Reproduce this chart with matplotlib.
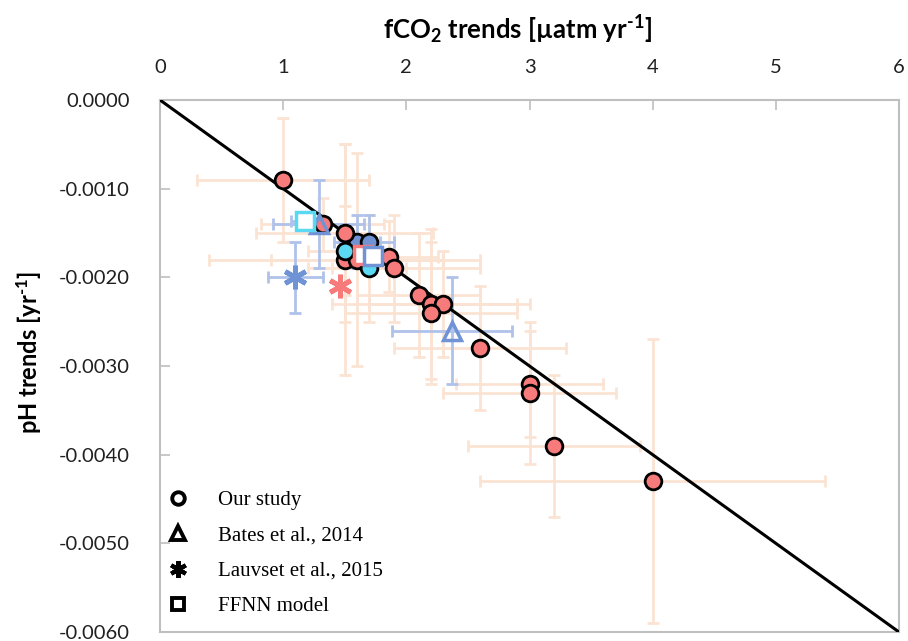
import matplotlib
matplotlib.use("Agg")
import matplotlib.pyplot as plt
from matplotlib.lines import Line2D

plt.rcParams['axes.unicode_minus'] = False
plt.rcParams['mathtext.fontset'] = 'custom'
plt.rcParams['mathtext.rm'] = 'Lato'
plt.rcParams['mathtext.bf'] = 'Lato:bold'
plt.rcParams['mathtext.default'] = 'bf'

# ---------------- data ----------------
x_ticks = [0, 1, 2, 3, 4, 5, 6]
y_ticks = [0.0, -0.001, -0.002, -0.003, -0.004, -0.005, -0.006]

line_x = [0, 6]
line_y = [0.0, -0.006]

our_red_x = [1.0, 1.32, 1.5, 1.5, 1.6, 1.86, 1.9, 2.1, 2.2, 2.3, 2.2, 2.6, 3.0, 3.0, 3.2, 4.0]
our_red_y = [-0.0009, -0.0014, -0.0015, -0.0018, -0.0018, -0.00177, -0.0019, -0.0022,
             -0.0023, -0.0023, -0.0024, -0.0028, -0.0032, -0.0033, -0.0039, -0.0043]
our_red_xerr = [0.7, 0.5, 0.72, 1.1, 0.7, 0.4, 0.7, 0.5, 0.8, 0.6, 0.7, 0.7, 0.6, 0.7, 0.7, 1.4]
our_red_yerr = [0.0007, 0.0003, 0.001, 0.0013, 0.0012, 0.0004, 0.0006, 0.0007,
                0.00085, 0.0006, 0.0008, 0.0007, 0.0006, 0.0008, 0.0008, 0.0016]

our_blue_x = [1.6, 1.7]
our_blue_y = [-0.0016, -0.0016]
our_blue_xerr = [0.19, 0.2]
our_blue_yerr = [0.0003, 0.0003]

our_cyan_x = [1.5, 1.7]
our_cyan_y = [-0.0017, -0.0019]
our_cyan_xerr = [0.3, 0.3]
our_cyan_yerr = [0.0005, 0.0006]

bates_x = [1.29, 2.37]
bates_y = [-0.0014, -0.0026]
bates_xerr = [0.37, 0.49]
bates_yerr = [0.0005, 0.0006]

lauv_blue_x = [1.1]
lauv_blue_y = [-0.002]
lauv_blue_xerr = [0.22]
lauv_blue_yerr = [0.0004]

lauv_red_x = [1.46]
lauv_red_y = [-0.0021]

ffnn_cyan_x = [1.18]
ffnn_cyan_y = [-0.00136]
ffnn_cyan_xerr = [0.12]

ffnn_red_x = [1.65]
ffnn_red_y = [-0.00175]

ffnn_blue_x = [1.73]
ffnn_blue_y = [-0.00176]

legend_labels = ["Our study", "Bates et al., 2014", "Lauvset et al., 2015", "FFNN model"]

# ---------------- style ----------------
RED = '#F77B7B'
BLUE = '#7093D6'
CYAN = '#5BD9F2'
PEACH = '#FBE3D3'
LBLUE = '#AFC2EA'
GRAY = '#BFBFBF'

fig = plt.figure(figsize=(9.08, 6.41), dpi=100)
ax = fig.add_axes([0.1762, 0.014, 0.8139, 0.830])

ebkw = dict(fmt='none', elinewidth=2, capsize=4.5, capthick=2)
ax.errorbar(our_red_x, our_red_y, xerr=our_red_xerr, yerr=our_red_yerr, ecolor=PEACH, zorder=1, **ebkw)
ax.errorbar(our_cyan_x, our_cyan_y, xerr=our_cyan_xerr, yerr=our_cyan_yerr, ecolor=PEACH, zorder=1, **ebkw)
ax.errorbar(our_blue_x, our_blue_y, xerr=our_blue_xerr, yerr=our_blue_yerr, ecolor=LBLUE, zorder=1.5, **ebkw)
ax.errorbar(bates_x, bates_y, xerr=bates_xerr, yerr=bates_yerr, ecolor=LBLUE, zorder=1.5, **ebkw)
ax.errorbar(lauv_blue_x, lauv_blue_y, xerr=lauv_blue_xerr, yerr=lauv_blue_yerr, ecolor=LBLUE, zorder=1.5, **ebkw)
ax.errorbar(ffnn_cyan_x, ffnn_cyan_y, xerr=ffnn_cyan_xerr, ecolor=LBLUE, zorder=1.5, **ebkw)

ax.plot(line_x, line_y, color='black', lw=2.2, zorder=3, solid_capstyle='butt')

ckw = dict(linestyle='none', marker='o', markersize=12, markeredgecolor='black', markeredgewidth=2)
ax.plot(our_blue_x, our_blue_y, markerfacecolor=BLUE, zorder=4, **ckw)
ax.plot(our_red_x, our_red_y, markerfacecolor=RED, zorder=5, **ckw)
ax.plot(our_cyan_x, our_cyan_y, markerfacecolor=CYAN, zorder=6, **ckw)

ax.plot(bates_x, bates_y, linestyle='none', marker='^', markersize=13, markerfacecolor='none',
        markeredgecolor=BLUE, markeredgewidth=2.5, zorder=7)
ax.plot(lauv_blue_x, lauv_blue_y, linestyle='none', marker=(6, 2, 0), markersize=17,
        markeredgecolor=BLUE, markeredgewidth=3.5, zorder=7)
ax.plot(lauv_red_x, lauv_red_y, linestyle='none', marker=(6, 2, 0), markersize=17,
        markeredgecolor=RED, markeredgewidth=3.5, zorder=7)

skw = dict(linestyle='none', marker='s', markersize=12.5, markerfacecolor='white', markeredgewidth=2.5)
ax.plot(ffnn_cyan_x, ffnn_cyan_y, markeredgecolor=CYAN, zorder=8, **skw)
ax.plot(ffnn_red_x, ffnn_red_y, markeredgecolor=RED, zorder=8, **skw)
ax.plot(ffnn_blue_x, ffnn_blue_y, markeredgecolor=BLUE, zorder=9, **skw)

ax.set_xlim(0, 6)
ax.set_ylim(-0.006, 0.0)
ax.xaxis.tick_top()
ax.set_xticks(x_ticks)
ax.set_xticklabels([str(v) for v in x_ticks])
ax.set_yticks(y_ticks)
ax.set_yticklabels(['%.4f' % v if v != 0 else '0.0000' for v in y_ticks])
ax.tick_params(axis='x', which='both', direction='in', length=7, width=1.2, color=GRAY,
               pad=17, labelsize=14.5, top=True, bottom=False)
ax.tick_params(axis='y', which='both', direction='in', length=7, width=1.2, color=GRAY,
               pad=22, labelsize=14.5)
for lab in ax.get_xticklabels() + ax.get_yticklabels():
    lab.set_fontfamily('Lato')
    lab.set_color('#202020')
for s in ax.spines.values():
    s.set_color(GRAY)
    s.set_linewidth(1.5)

fig.text(518 / 908, 1 - 30 / 641, "fCO$_{2}$ trends [µatm yr$^{\u20101}$]", ha='center', va='center',
         fontsize=18.5, fontweight='bold', family='Lato')
fig.text(29 / 908, 1 - 352 / 641, "pH trends [yr$^{\u20101}$]", ha='center', va='center',
         rotation=90, fontsize=17, fontweight='bold', family='Lato')

handles = [
    Line2D([], [], linestyle='none', marker='o', markersize=9, markerfacecolor='none',
           markeredgecolor='black', markeredgewidth=2.8),
    Line2D([], [], linestyle='none', marker='^', markersize=10, markerfacecolor='none',
           markeredgecolor='black', markeredgewidth=2.8),
    Line2D([], [], linestyle='none', marker=(6, 2, 0), markersize=12,
           markeredgecolor='black', markeredgewidth=3),
    Line2D([], [], linestyle='none', marker='s', markersize=9, markerfacecolor='none',
           markeredgecolor='black', markeredgewidth=2.8),
]
leg = ax.legend(handles, legend_labels, loc='lower left', bbox_to_anchor=(0.0103, 0.030),
                frameon=False, prop={'family': 'Liberation Serif', 'size': 15},
                handlelength=1.0, handletextpad=1.42, labelspacing=0.75,
                borderaxespad=0.0, borderpad=0.0)

fig.savefig('out.png', dpi=100)
